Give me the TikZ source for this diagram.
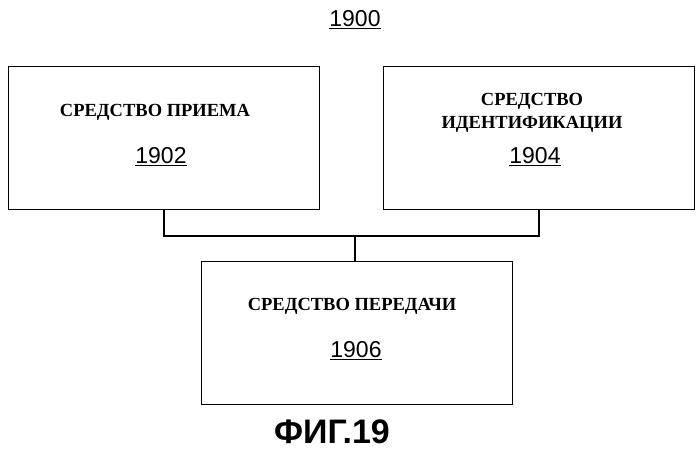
\documentclass[tikz,border=0pt]{standalone}
\usepackage{fontspec}
\setmainfont{Liberation Serif}
\setsansfont{Liberation Sans}
\usetikzlibrary{positioning}
\begin{document}
\begin{tikzpicture} [
        x = 1pt,
        y = -1pt,
        every node/.style = {
          align = center,
        },
        meansbox/.style = {
          draw,
          line width = 1.4pt,
          minimum width = 311pt,
          minimum height = 143pt,
          inner sep = 0pt,
        },
        caption/.style = {
          font = \bfseries\fontsize{18.5}{23}\selectfont,
        },
        refnum/.style = {
          font = \sffamily\fontsize{23}{26}\selectfont,
        },
      ]
    \useasboundingbox (0,0) rectangle (699,452);

    % boxes
    \node [meansbox] (receive) at (164,138) {};
    \node [meansbox] (identify) at (539,138) {};
    \node [meansbox] (transmit) at (357,333) {};

    % texts
    \node [refnum] (figNum) at (355,20) {\underline{1900}};
    \node [caption] (receiveText) at (155,112) {СРЕДСТВО ПРИЕМА};
    \node [refnum] (receiveNum) at (161,157) {\underline{1902}};
    \node [caption] (identifyText) at (532,113) {СРЕДСТВО\\ИДЕНТИФИКАЦИИ};
    \node [refnum] (identifyNum) at (535,157) {\underline{1904}};
    \node [caption] (transmitText) at (352,306) {СРЕДСТВО ПЕРЕДАЧИ};
    \node [refnum] (transmitNum) at (356,351) {\underline{1906}};
    \node [font = \sffamily\bfseries\fontsize{34}{38}\selectfont] (figLabel) at (332,432) {ФИГ.19};

    % connectors
    \coordinate (junction) at (355,236);
    \draw [line width = 1.4pt] (receive.south) |- (junction) -| (identify.south);
    \draw [line width = 1.4pt] (transmit.north -| junction) -- (junction);
  \end{tikzpicture}
\end{document}
